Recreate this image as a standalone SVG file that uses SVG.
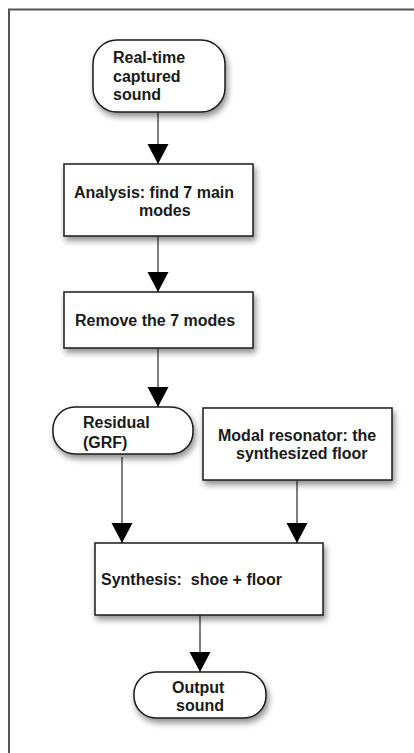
<svg xmlns="http://www.w3.org/2000/svg" width="414" height="753" viewBox="0 0 414 753">
<style>
.box{fill:#fff;stroke:#1a1a1a;stroke-width:1.5;filter:url(#sh)}
.t{font-family:"Liberation Sans",Arial,sans-serif;font-weight:bold;font-size:16px;fill:#1a1a1a;white-space:pre}
.c{stroke:#555;stroke-width:1.5;fill:none;marker-end:url(#ah)}
.frame{stroke:#555;stroke-width:2;fill:none}
</style>
<defs>
<filter id="sh" x="-20%" y="-20%" width="150%" height="160%">
<feDropShadow dx="2" dy="4" stdDeviation="3" flood-color="#000" flood-opacity="0.45"/>
</filter>
<marker id="ah" markerUnits="userSpaceOnUse" markerWidth="22" markerHeight="22" refX="20" refY="10.5" orient="auto">
<path d="M0,0 L20,10.5 L0,21 z" fill="#000"/>
</marker>
</defs>
<rect width="414" height="753" fill="#fff"/>
<path class="frame" d="M9,753 V9.5 H414"/>
<g id="connectors">
<line class="c" x1="158" y1="112" x2="158" y2="164"/>
<line class="c" x1="158" y1="236" x2="158" y2="292"/>
<line class="c" x1="158" y1="348" x2="158" y2="407"/>
<line class="c" x1="122" y1="457" x2="122" y2="543"/>
<line class="c" x1="297" y1="481" x2="297" y2="543"/>
<line class="c" x1="200" y1="615" x2="200" y2="672"/>
</g>
<g id="start">
<rect class="box" x="93" y="40" width="132" height="72" rx="24"/>
<text class="t" x="113" y="63">Real-time</text>
<text class="t" x="113" y="82">captured</text>
<text class="t" x="113" y="100">sound</text>
</g>
<g id="analysis">
<rect class="box" x="64" y="164" width="189" height="72"/>
<text class="t" x="74" y="198">Analysis: find 7 main</text>
<text class="t" x="139" y="216">modes</text>
</g>
<g id="remove">
<rect class="box" x="64" y="292" width="189" height="56"/>
<text class="t" x="75" y="326">Remove the 7 modes</text>
</g>
<g id="residual">
<rect class="box" x="53" y="407" width="140" height="47" rx="22"/>
<text class="t" x="83" y="428">Residual</text>
<text class="t" x="83" y="448">(GRF)</text>
</g>
<g id="modal">
<rect class="box" x="203" y="408" width="189" height="72"/>
<text class="t" x="218" y="441">Modal resonator: the</text>
<text class="t" x="236" y="459">synthesized floor</text>
</g>
<g id="synthesis">
<rect class="box" x="95" y="543" width="228" height="72"/>
<text class="t" x="101" y="585">Synthesis:  shoe + floor</text>
</g>
<g id="output">
<rect class="box" x="134" y="672" width="132" height="46" rx="22"/>
<text class="t" x="172" y="693">Output</text>
<text class="t" x="176" y="711">sound</text>
</g>
</svg>
